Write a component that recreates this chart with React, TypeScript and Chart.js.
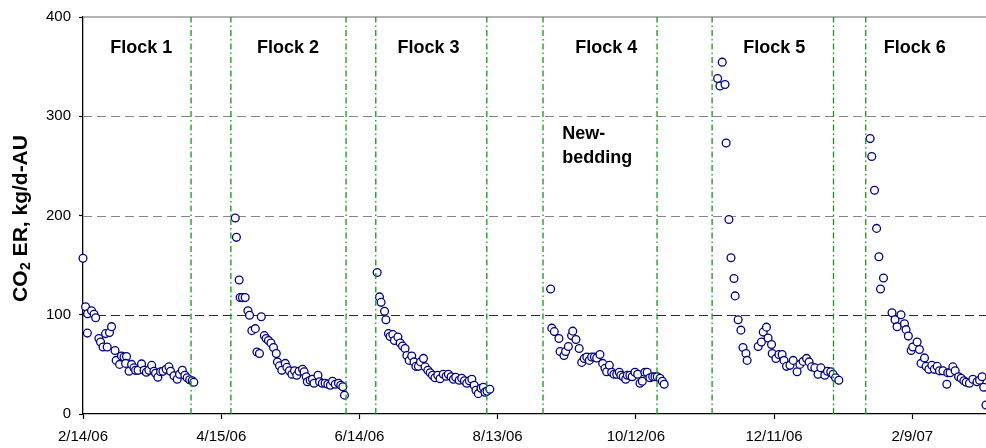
import React, { useEffect, useRef } from "react";
import { Chart, registerables } from "chart.js";

Chart.register(...registerables);

// Days counted from 2/14/06
const xTickDays = [0, 60, 120, 180, 240, 300, 360];
const xTickLabels = ["2/14/06", "4/15/06", "6/14/06", "8/13/06", "10/12/06", "12/11/06", "2/9/07"];
const yTickValues = [0, 100, 200, 300, 400];
const yGridValues = [100, 200, 300];

const flock1Days = [0, 1.1, 2, 3.7, 4.8, 5.5, 1.9, 6.9, 7.6, 8.7, 10.5, 9.8, 11.5, 12.4, 13.9, 14.4, 15.9, 16.7, 17.8, 18.9, 18.5, 20, 21.1, 22.1, 22.8, 23.9, 25.4, 26.5, 27.5, 28.6, 29.8, 30.8, 31.5, 32.5, 33.7, 34.7, 36.1, 37.3, 38, 39.5, 40.9, 41.9, 43.1, 44.2, 45.2, 46.3, 47.4, 48.1];
const flock1Values = [157, 108, 101, 104, 100.5, 97, 81.5, 76, 72.5, 67.5, 67.5, 81, 82, 88, 64, 54, 50, 58.5, 57.5, 58, 51, 43, 50, 46.5, 44, 44, 50.5, 44, 42, 44, 49, 43, 41, 37, 42.5, 43, 45, 47.5, 43, 38.5, 35, 40, 44, 39, 36.5, 34.5, 33.5, 32];

const flock2Days = [66.1, 66.6, 67.8, 68.2, 69.2, 70.4, 71.6, 72.3, 73.3, 74.8, 75.5, 76.6, 77.4, 78.7, 79.5, 80.5, 81.6, 82.7, 83.9, 84.4, 85.3, 86.3, 87.8, 88.5, 89.6, 90.7, 91.8, 92.8, 93.8, 95.3, 96, 96.9, 97.4, 98.6, 99.6, 100.3, 102, 102.7, 103.9, 105.1, 106.3, 107.4, 108.3, 109.5, 110.9, 111.9, 112.8, 113.5];
const flock2Values = [197.5, 178, 135, 117.3, 117.3, 117.3, 104, 99.5, 84, 86, 62.5, 61, 98, 79, 76, 74, 71.5, 67, 61, 52.5, 48.5, 44, 51, 47, 43.5, 40, 43.5, 39, 43, 45, 42.5, 37.5, 32.5, 34, 35, 31, 39, 32.5, 31, 31, 30, 29, 33, 30, 31, 29, 27.5, 19];

const flock3Days = [127.7, 128.7, 129.4, 130.9, 131.5, 132.6, 133.3, 134.5, 135.2, 136.7, 137.7, 138.7, 139.8, 140.6, 141.6, 142.7, 143.7, 144.5, 145.6, 146.5, 147.8, 148.5, 149.7, 150.7, 151.7, 152.8, 154, 155, 156.4, 157.6, 158.6, 159.8, 160.8, 161.8, 163.3, 164.4, 165.6, 166.6, 167.7, 168.8, 169.8, 170.6, 171.6, 172.8, 173.8, 174.5, 175.4, 176.6];
const flock3Values = [142.5, 118, 112.5, 103.5, 95, 81, 78, 80, 74, 77.5, 71.5, 68.5, 66, 59, 54, 58.5, 52.5, 48, 48, 52.5, 56, 47.5, 44, 41.5, 39, 36.5, 39, 35.5, 40, 38, 40, 37.5, 35, 37, 34, 36, 33.5, 31, 33.5, 35, 29, 24, 20.5, 26, 27, 22, 23, 25];

const flock4Days = [203, 203.5, 204.6, 206.6, 207.1, 208.8, 209.5, 210.7, 212.1, 212.6, 214, 215.4, 216.5, 217.6, 218.7, 219.8, 220.8, 222, 223, 224.4, 225.6, 226.6, 227.3, 228.5, 229.5, 230.5, 231.7, 232.8, 233.5, 234.5, 235.6, 236.3, 237.4, 238.4, 239.6, 240.8, 241.8, 242.8, 243.9, 244.9, 246.1, 247.3, 248.3, 249.3, 250.5, 251.5, 252.3];
const flock4Values = [126, 86.5, 83, 76, 63, 59, 63, 68, 79, 83.5, 75, 66, 52, 56, 57.5, 54, 57.5, 57.5, 56.5, 60, 51, 46, 42.5, 49, 42, 40, 40, 42, 39, 37.5, 35, 39, 39, 37.5, 42, 40, 31, 33, 42, 42, 36.5, 37.5, 37.5, 37.5, 36, 33, 30];

const flock5Days = [277.5, 275.5, 276.5, 278.7, 279.2, 280.4, 281.3, 282.6, 283.1, 284.4, 285.6, 286.5, 287.8, 288.3, 293.1, 294.5, 295.3, 296.7, 297.4, 298.9, 299.2, 300.8, 302.1, 303.5, 304.3, 305.4, 306.9, 308.3, 310, 311.2, 312.6, 314.1, 315.2, 316.3, 317.7, 319.1, 320.3, 322, 323.2, 324.6, 325.6, 326.7, 328.1];
const flock5Values = [354.5, 338, 330.5, 332, 273, 196, 157.5, 136.5, 119, 95, 84.5, 67, 61, 54, 68, 72.5, 82.5, 87.5, 76.5, 70, 61, 56, 60, 60, 54, 48, 49, 54, 42.5, 50, 53, 56, 52.5, 47.5, 46.5, 40, 46.5, 39, 43, 42.5, 40, 36.5, 34];

const flock6Days = [341.7, 342.4, 343.6, 344.5, 345.5, 347.5, 346.2, 351.2, 352.5, 353.4, 355.1, 356.6, 357.3, 358.3, 359.5, 360.2, 362.1, 363.1, 363.8, 365.3, 366, 367.2, 368.5, 369.6, 370.8, 371.8, 373.3, 375, 375.4, 376.4, 377.6, 378.6, 380.1, 381.2, 382.4, 383.4, 384.8, 386.3, 388.1, 389.2, 390.3, 391, 392];
const flock6Values = [277.5, 259.5, 225.5, 187, 158.5, 137, 126, 102, 95, 88, 100, 91, 85, 78.5, 64, 67.5, 72.5, 65, 51, 56.5, 48, 45, 49, 45, 48, 43.5, 43.5, 30, 41.5, 41.5, 47.5, 43.5, 37.5, 36, 33.5, 32, 31, 35, 32.5, 34, 37.5, 27, 9];

// Flock boundary marker lines (days)
const boundaryDays = [46.9, 64.2, 114.2, 127.1, 175.3, 199.7, 249.2, 273.1, 325.8, 339.8];

const flockLabels = ["Flock 1", "Flock 2", "Flock 3", "Flock 4", "Flock 5", "Flock 6"];
const flockLabelDays = [25.3, 89.0, 150.0, 227.2, 300.1, 361.1];
const flockLabelValue = 364;
const noteLines = ["New-", "bedding"];
const noteDay = 208;
const noteValues = [277.5, 253.2];

const yTitleMain = "CO";
const yTitleSub = "2";
const yTitleRest = " ER, kg/d-AU";

const FONT = "'Liberation Sans', Arial, sans-serif";

const overlayPlugin = {
  id: "overlay",
  beforeDatasetsDraw(chart: any) {
    const { ctx, chartArea, scales } = chart;
    const y = scales.y;
    ctx.save();
    ctx.lineWidth = 1.2;
    ctx.setLineDash([9, 5]);
    yGridValues.forEach((v) => {
      const py = Math.round(y.getPixelForValue(v)) + 0.5;
      ctx.strokeStyle = v === 100 ? "#2a2a2a" : "#858585";
      ctx.beginPath();
      ctx.moveTo(chartArea.left, py);
      ctx.lineTo(chartArea.right, py);
      ctx.stroke();
    });
    ctx.setLineDash([]);
    ctx.strokeStyle = "#9a9a9a";
    ctx.lineWidth = 1.4;
    const top = y.getPixelForValue(400);
    ctx.beginPath();
    ctx.moveTo(chartArea.left, top);
    ctx.lineTo(chartArea.right, top);
    ctx.stroke();
    ctx.restore();
  },
  afterDatasetsDraw(chart: any) {
    const { ctx, scales } = chart;
    const x = scales.x;
    const y = scales.y;
    ctx.save();
    ctx.fillStyle = "#000";
    ctx.font = `bold 18px ${FONT}`;
    ctx.textBaseline = "alphabetic";
    ctx.textAlign = "center";
    flockLabels.forEach((t, i) => {
      ctx.fillText(t, x.getPixelForValue(flockLabelDays[i]), y.getPixelForValue(flockLabelValue));
    });
    ctx.textAlign = "left";
    noteLines.forEach((t, i) => {
      ctx.fillText(t, x.getPixelForValue(noteDay), y.getPixelForValue(noteValues[i]));
    });
    // y-axis title (rotated)
    ctx.translate(27, 302);
    ctx.rotate(-Math.PI / 2);
    ctx.font = `bold 21px ${FONT}`;
    ctx.fillText(yTitleMain, 0, 0);
    let u = ctx.measureText(yTitleMain).width;
    ctx.font = `bold 14px ${FONT}`;
    ctx.fillText(yTitleSub, u + 0.5, 3);
    u += ctx.measureText(yTitleSub).width + 0.5;
    ctx.font = `bold 21px ${FONT}`;
    ctx.fillText(yTitleRest, u, 0);
    ctx.restore();
  },
};

const toPoints = (days: number[], vals: number[]) => days.map((d, i) => ({ x: d, y: vals[i] }));

export default function App() {
  const ref = useRef<HTMLCanvasElement>(null);
  useEffect(() => {
    if (!ref.current) return;
    const allDays = [flock1Days, flock2Days, flock3Days, flock4Days, flock5Days, flock6Days];
    const allVals = [flock1Values, flock2Values, flock3Values, flock4Values, flock5Values, flock6Values];
    const scatterData = allDays.flatMap((d, i) => toPoints(d, allVals[i]));
    const boundarySets = boundaryDays.map((d) => ({
      type: "line" as const,
      data: [
        { x: d, y: 0 },
        { x: d, y: 400 },
      ],
      borderColor: "#119a11",
      borderWidth: 1.3,
      borderDash: [6, 3, 1.5, 3],
      pointRadius: 0,
      showLine: true,
      fill: false,
      order: 0,
    }));
    const chart = new Chart(ref.current, {
      type: "scatter",
      data: {
        datasets: [
          {
            data: scatterData,
            pointStyle: "circle",
            pointRadius: 3.9,
            pointBorderWidth: 1.3,
            pointBorderColor: "#000080",
            pointBackgroundColor: "#ffffff",
            borderColor: "#000080",
            backgroundColor: "#ffffff",
            showLine: false,
            clip: false,
            order: 1,
          } as any,
          ...boundarySets,
        ],
      },
      options: {
        animation: false,
        responsive: false,
        devicePixelRatio: 1,
        layout: { autoPadding: false, padding: { top: 15, left: 0, right: 0, bottom: 0 } },
        plugins: { legend: { display: false }, tooltip: { enabled: false } },
        events: [],
        scales: {
          x: {
            type: "linear",
            min: 0,
            max: 392,
            afterBuildTicks: (s: any) => {
              s.ticks = xTickDays.map((v) => ({ value: v }));
            },
            afterFit: (s: any) => {
              s.height = 34;
            },
            ticks: {
              callback: (v: any) => {
                const i = xTickDays.indexOf(Number(v));
                return i >= 0 ? xTickLabels[i] : "";
              },
              color: "#000",
              font: { family: FONT, size: 15 },
              padding: 9,
              maxRotation: 0,
              autoSkip: false,
            },
            grid: { display: true, drawOnChartArea: false, drawTicks: true, tickLength: 5, tickColor: "#000", tickWidth: 1.2 },
            border: { display: true, color: "#000", width: 1.3 },
          },
          y: {
            type: "linear",
            min: 0,
            max: 400,
            afterBuildTicks: (s: any) => {
              s.ticks = yTickValues.map((v) => ({ value: v }));
            },
            afterFit: (s: any) => {
              s.width = 83;
            },
            ticks: {
              color: "#000",
              font: { family: FONT, size: 15 },
              padding: 8,
            },
            grid: { display: true, drawOnChartArea: false, drawTicks: true, tickLength: 4, tickColor: "#000", tickWidth: 1.2 },
            border: { display: true, color: "#000", width: 1.3 },
          },
        },
      } as any,
      plugins: [overlayPlugin],
    });
    return () => chart.destroy();
  }, []);
  return (
    <div style={{ position: "fixed", left: 0, top: 0, width: 986, height: 448, background: "#fff" }}>
      <canvas ref={ref} width={986} height={448} style={{ display: "block", width: 986, height: 448 }} />
    </div>
  );
}
